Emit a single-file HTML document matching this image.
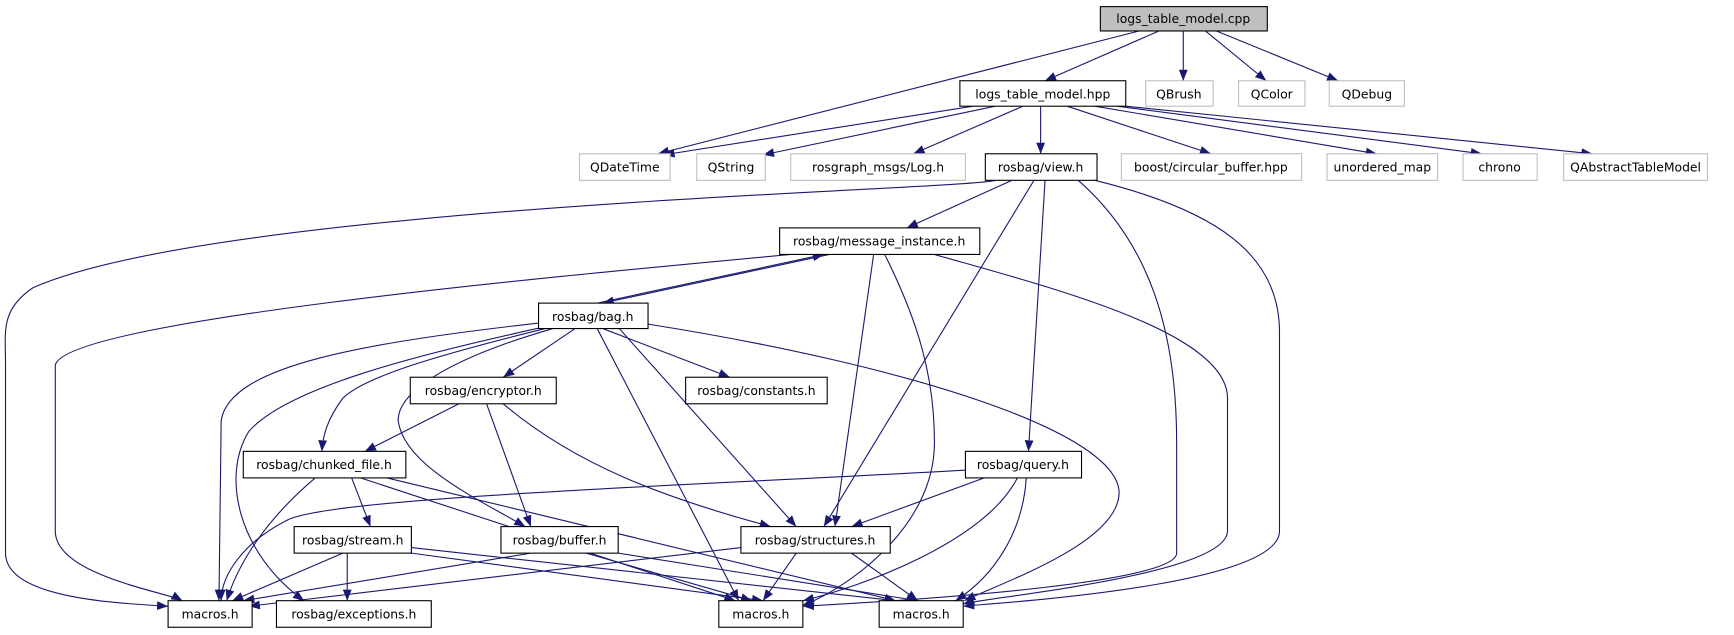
<!DOCTYPE html>
<html><head><meta charset="utf-8"><style>
html,body{margin:0;padding:0;background:#fff;}
svg{display:block;}
text{font-family:"DejaVu Sans","Liberation Sans",sans-serif;font-size:11.2px;text-anchor:middle;fill:#000;}
.n{fill:#fff;stroke:#000;stroke-width:1;}
.g{fill:#fff;stroke:#bfbfbf;stroke-width:1;}
.e{fill:none;stroke:#191970;stroke-width:1;marker-end:url(#a);}
</style></head><body>
<svg width="1734" height="635" viewBox="0 0 1568 574" preserveAspectRatio="none" xmlns="http://www.w3.org/2000/svg">
<defs><marker id="a" markerUnits="userSpaceOnUse" markerWidth="12" markerHeight="10" refX="10" refY="4" orient="auto"><path d="M0,0 L10,4 L0,8 Z" fill="#191970"/></marker></defs>
<g>
<path class="e" d="M1048,28 L945,73"/>
<path class="e" d="M1030,28 L595,139"/>
<path class="e" d="M1070,28 L1070,73"/>
<path class="e" d="M1090,28 L1145,73"/>
<path class="e" d="M1100,28 L1210,73"/>
<path class="e" d="M880,96 L600,140"/>
<path class="e" d="M900,96 L690,140"/>
<path class="e" d="M925,96 L826,139"/>
<path class="e" d="M941,96 L941,139"/>
<path class="e" d="M965,96 L1095,139"/>
<path class="e" d="M990,96 L1245,139"/>
<path class="e" d="M1010,96 L1340,139"/>
<path class="e" d="M1018,96 L1440,139"/>
<path class="e" d="M915,163 L820,206"/>
<path class="e" d="M900,163 C870,172 200,185 30,260 C0,280 5,300 5,330 L5,500 C5,540 100,545 152,548"/>
<path class="e" d="M935,163 L745,476"/>
<path class="e" d="M975,163 C1040,220 1064,300 1064,400 L1064,500 C1064,530 780,545 726,548"/>
<path class="e" d="M945,163 L930,408"/>
<path class="e" d="M990,163 C1100,190 1157,230 1157,300 L1157,480 C1157,530 900,545 871,548"/>
<path class="e" d="M540,274 L745,230"/>
<path class="e" d="M750,230 L545,274"/>
<path class="e" d="M715,230 C500,250 60,290 50,330 L50,480 C50,520 150,535 165,543"/>
<path class="e" d="M790,230 L755,476"/>
<path class="e" d="M800,230 C830,290 845,340 845,400 C845,480 760,535 726,547"/>
<path class="e" d="M845,230 C950,260 1110,300 1110,360 L1110,480 C1110,520 890,540 871,546"/>
<path class="e" d="M520,297 L455,341"/>
<path class="e" d="M545,297 L660,341"/>
<path class="e" d="M487,292 C330,310 208,330 200,380 L198,543"/>
<path class="e" d="M490,296 C380,320 260,350 225,390 C200,430 215,500 275,543"/>
<path class="e" d="M493,297 C400,320 330,340 310,360 C295,380 292,395 291,408"/>
<path class="e" d="M500,297 C420,320 360,350 360,380 C365,420 430,450 475,476"/>
<path class="e" d="M560,297 L720,476"/>
<path class="e" d="M540,297 L668,543"/>
<path class="e" d="M586,293 C820,330 1010,390 1012,445 C1012,490 910,525 872,543"/>
<path class="e" d="M415,365 L330,408"/>
<path class="e" d="M440,365 L480,476"/>
<path class="e" d="M455,365 C520,420 600,450 697,476"/>
<path class="e" d="M285,432 C240,470 215,510 205,543"/>
<path class="e" d="M318,432 L335,476"/>
<path class="e" d="M326,432 L665,543"/>
<path class="e" d="M350,432 L810,543"/>
<path class="e" d="M873,425 C600,440 300,450 260,470 C220,490 200,520 200,543"/>
<path class="e" d="M890,432 L770,476"/>
<path class="e" d="M920,432 C890,490 780,530 726,543"/>
<path class="e" d="M928,432 C925,480 900,520 864,543"/>
<path class="e" d="M310,500 L210,543"/>
<path class="e" d="M314,500 L314,543"/>
<path class="e" d="M372,500 L690,543"/>
<path class="e" d="M372,495 L810,543"/>
<path class="e" d="M480,500 L220,543"/>
<path class="e" d="M530,500 L680,543"/>
<path class="e" d="M559,500 L830,543"/>
<path class="e" d="M670,495 L225,548"/>
<path class="e" d="M720,500 L690,543"/>
<path class="e" d="M770,500 L830,543"/>
</g>
<rect x="995" y="6" width="151" height="22" fill="#bfbfbf" stroke="#000"/><text x="1070" y="21">logs_table_model.cpp</text>
<rect class="n" x="868" y="73" width="150" height="23"/><text x="943" y="89">logs_table_model.hpp</text>
<rect class="g" x="1036" y="73" width="61" height="23"/><text x="1066" y="89">QBrush</text>
<rect class="g" x="1120" y="73" width="60" height="23"/><text x="1150" y="89">QColor</text>
<rect class="g" x="1202" y="73" width="68" height="23"/><text x="1236" y="89">QDebug</text>
<rect class="g" x="524" y="139" width="82" height="24"/><text x="565" y="155">QDateTime</text>
<rect class="g" x="630" y="139" width="62" height="24"/><text x="661" y="155">QString</text>
<rect class="g" x="715" y="139" width="158" height="24"/><text x="794" y="155">rosgraph_msgs/Log.h</text>
<rect class="n" x="891" y="139" width="101" height="24"/><text x="941" y="155">rosbag/view.h</text>
<rect class="g" x="1014" y="139" width="163" height="24"/><text x="1095" y="155">boost/circular_buffer.hpp</text>
<rect class="g" x="1200" y="139" width="100" height="24"/><text x="1250" y="155">unordered_map</text>
<rect class="g" x="1323" y="139" width="67" height="24"/><text x="1356" y="155">chrono</text>
<rect class="g" x="1414" y="139" width="130" height="24"/><text x="1479" y="155">QAbstractTableModel</text>
<rect class="n" x="705" y="206" width="181" height="24"/><text x="795" y="222">rosbag/message_instance.h</text>
<rect class="n" x="487" y="274" width="99" height="23"/><text x="536" y="290">rosbag/bag.h</text>
<rect class="n" x="371" y="341" width="132" height="24"/><text x="437" y="357">rosbag/encryptor.h</text>
<rect class="n" x="620" y="341" width="128" height="24"/><text x="684" y="357">rosbag/constants.h</text>
<rect class="n" x="220" y="408" width="147" height="24"/><text x="293" y="424">rosbag/chunked_file.h</text>
<rect class="n" x="873" y="408" width="105" height="24"/><text x="925" y="424">rosbag/query.h</text>
<rect class="n" x="266" y="476" width="106" height="24"/><text x="319" y="492">rosbag/stream.h</text>
<rect class="n" x="453" y="476" width="106" height="24"/><text x="506" y="492">rosbag/buffer.h</text>
<rect class="n" x="670" y="476" width="135" height="24"/><text x="737" y="492">rosbag/structures.h</text>
<rect class="n" x="152" y="543" width="76" height="24"/><text x="190" y="559">macros.h</text>
<rect class="n" x="250" y="543" width="140" height="24"/><text x="320" y="559">rosbag/exceptions.h</text>
<rect class="n" x="650" y="543" width="76" height="24"/><text x="688" y="559">macros.h</text>
<rect class="n" x="795" y="543" width="76" height="24"/><text x="833" y="559">macros.h</text>
</svg>
</body></html>
